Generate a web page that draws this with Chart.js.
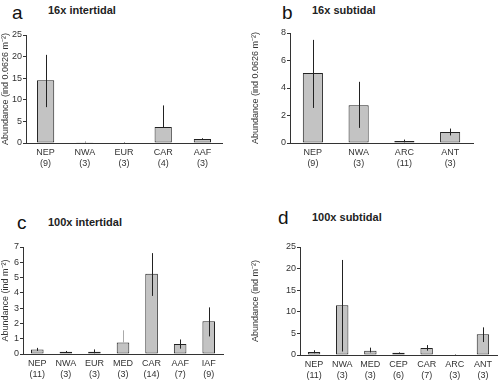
<!DOCTYPE html>
<html><head><meta charset="utf-8">
<script src="https://cdn.jsdelivr.net/npm/chart.js@4/dist/chart.umd.min.js"></script>
<style>
body{margin:0;background:#fff;width:500px;height:383px;position:relative;overflow:hidden;font-family:"Liberation Sans",Arial,sans-serif;}
canvas{position:absolute;}
.lt{position:absolute;font-size:19px;color:#111;line-height:1;}
.tt{position:absolute;font-size:11px;font-weight:bold;color:#222;line-height:1;}
</style></head><body>
<div class="lt" style="left:12px;top:3px">a</div><div class="tt" style="left:48px;top:5px">16x intertidal</div>
<div class="lt" style="left:282px;top:3px">b</div><div class="tt" style="left:312px;top:5px">16x subtidal</div>
<div class="lt" style="left:17px;top:213px">c</div><div class="tt" style="left:48px;top:217px">100x intertidal</div>
<div class="lt" style="left:278px;top:208px">d</div><div class="tt" style="left:312px;top:212px">100x subtidal</div>
<canvas id="ca" width="250" height="190" style="left:0;top:0"></canvas>
<canvas id="cb" width="250" height="190" style="left:250px;top:0"></canvas>
<canvas id="cc" width="250" height="193" style="left:0;top:190px"></canvas>
<canvas id="cd" width="250" height="193" style="left:250px;top:190px"></canvas>
<script>
// Panel a: 16x intertidal
const catsA = ["NEP","NWA","EUR","CAR","AAF"];
const nA = ["(9)","(3)","(3)","(4)","(3)"];
const valA = [14.5, 0.2, 0.1, 3.7, 0.9];
const loA = [8.3, 0.15, 0.05, 3.7, 0.75];
const hiA = [20.4, 0.3, 0.15, 8.7, 1.1];
// Panel b: 16x subtidal
const catsB = ["NEP","NWA","ARC","ANT"];
const nB = ["(9)","(3)","(11)","(3)"];
const valB = [5.1, 2.75, 0.15, 0.8];
const loB = [2.55, 1.1, 0.05, 0.55];
const hiB = [7.5, 4.45, 0.25, 1.05];
// Panel c: 100x intertidal
const catsC = ["NEP","NWA","EUR","MED","CAR","AAF","IAF"];
const nC = ["(11)","(3)","(3)","(3)","(14)","(7)","(9)"];
const valC = [0.3, 0.15, 0.15, 0.75, 5.25, 0.65, 2.15];
const loC = [0.2, 0.1, 0.05, 0.75, 3.8, 0.35, 1.15];
const hiC = [0.4, 0.2, 0.3, 1.55, 6.6, 0.95, 3.05];
// Panel d: 100x subtidal
const catsD = ["NEP","NWA","MED","CEP","CAR","ARC","ANT"];
const nD = ["(11)","(3)","(3)","(6)","(7)","(3)","(3)"];
const valD = [0.7, 11.5, 1.0, 0.5, 1.6, 0.1, 4.8];
const loD = [0.4, 0.8, 0.6, 0.4, 1.0, 0.05, 3.0];
const hiD = [1.1, 22.0, 1.7, 0.6, 2.3, 0.15, 6.4];
// y-axis ranges and tick steps
const yMaxA = 25, stepA = 5;
const yMaxB = 8, stepB = 1;
const yMaxC = 7, stepC = 1;
const yMaxD = 25, stepD = 5;

const errPlugin = {
  id: 'err',
  afterDatasetsDraw(chart, args, opts) {
    const ctx = chart.ctx, ys = chart.scales.y, meta = chart.getDatasetMeta(0);
    ctx.save();
    meta.data.forEach((bar, i) => {
      const x = Math.round(bar.x) + 0.5;
      ctx.strokeStyle = (opts.colors && opts.colors[i]) || '#222';
      ctx.lineWidth = 1;
      ctx.beginPath();
      ctx.moveTo(x, ys.getPixelForValue(opts.lo[i]));
      ctx.lineTo(x, ys.getPixelForValue(opts.hi[i]));
      ctx.stroke();
    });
    ctx.restore();
  }
};

function make(id, cats, ns, vals, lo, hi, yMax, step, ytitle, area, colors) {
  const W = 250, H = document.getElementById(id).height;
  const labels = cats.map((c, i) => [c, ns[i]]);
  new Chart(document.getElementById(id), {
    type: 'bar',
    data: { labels, datasets: [{ data: vals, backgroundColor: '#c3c3c3', borderColor: '#222', borderWidth: 1, borderSkipped: false, barPercentage: 0.44, categoryPercentage: 1 }] },
    options: {
      responsive: false, animation: false, devicePixelRatio: 1,
      layout: { padding: { left: 0, right: W - area.r, top: area.t, bottom: 0 } },
      plugins: { legend: { display: false }, tooltip: { enabled: false }, err: { lo, hi, colors } },
      scales: {
        x: {
          grid: { display: false, drawTicks: false },
          border: { color: '#333', width: 1 },
          ticks: { color: '#333', font: { size: 9, family: 'Liberation Sans' }, padding: 4, maxRotation: 0, autoSkip: false },
          afterFit: s => { s.height = H - area.b; }
        },
        y: {
          min: 0, max: yMax,
          grid: { display: true, drawOnChartArea: false, drawTicks: true, tickLength: 3, tickColor: '#333' },
          border: { color: '#333', width: 1 },
          ticks: { stepSize: step, color: '#333', font: { size: 9, family: 'Liberation Sans' }, padding: 1 },
          title: { display: true, text: ytitle, color: '#333', font: { size: 9, family: 'Liberation Sans' }, padding: 0 },
          afterFit: s => { s.width = area.l; }
        }
      }
    },
    plugins: [errPlugin]
  });
}

make('ca', catsA, nA, valA, loA, hiA, yMaxA, stepA, 'Abundance (ind 0.0626 m\u207B\u00B2)', { l: 26, r: 222, t: 35, b: 143 });
make('cb', catsB, nB, valB, loB, hiB, yMaxB, stepB, 'Abundance (ind 0.0626 m\u207B\u00B2)', { l: 40, r: 223, t: 33, b: 143 });
make('cc', catsC, nC, valC, loC, hiC, yMaxC, stepC, 'Abundance (ind m\u207B\u00B2)', { l: 23, r: 223, t: 57, b: 164 }, [null, null, null, '#aaa']);
make('cd', catsD, nD, valD, loD, hiD, yMaxD, stepD, 'Abundance (ind m\u207B\u00B2)', { l: 50, r: 247, t: 57, b: 165 });
</script>
</body></html>
